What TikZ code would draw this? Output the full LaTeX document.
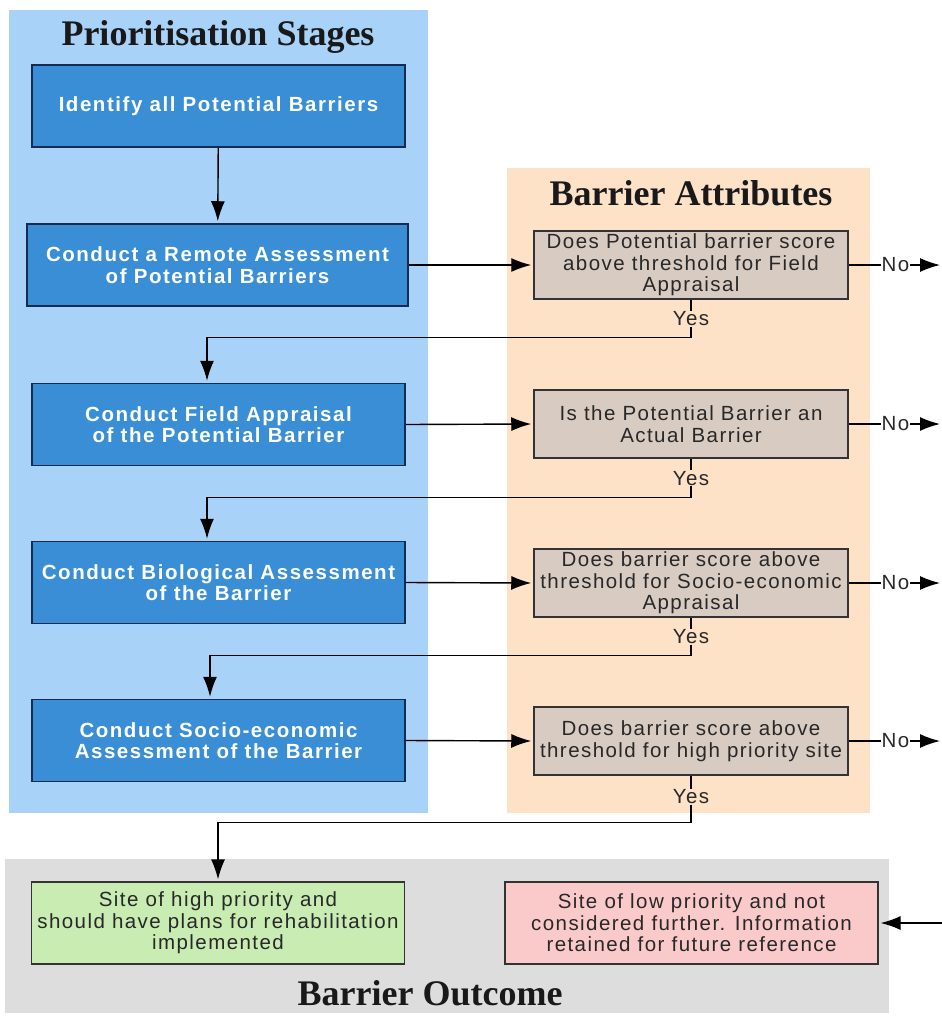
\documentclass[tikz,border=0pt]{standalone}
\usepackage{fontspec}
\setmainfont{Liberation Serif}
\setsansfont{Liberation Sans}
\newfontfamily\spacedsans[LetterSpace=7, BoldFeatures={LetterSpace=7.5}]{Liberation Sans}
\usetikzlibrary{arrows.meta}

\definecolor{stagepanel}{RGB}{168,210,248}
\definecolor{stagebox}{RGB}{57,142,214}
\definecolor{stageedge}{RGB}{22,42,82}
\definecolor{attrpanel}{RGB}{253,226,200}
\definecolor{attrbox}{RGB}{216,203,194}
\definecolor{outpanel}{RGB}{221,221,221}
\definecolor{highbox}{RGB}{200,236,178}
\definecolor{lowbox}{RGB}{250,202,202}
\definecolor{inktext}{RGB}{40,40,40}

\newcommand\stagefont{\spacedsans\bfseries\fontsize{20.5}{21.5}\selectfont}
\newcommand\testfont{\spacedsans\fontsize{20.5}{21.5}\selectfont}

\tikzset{
  panel title/.style={font=\fontsize{36}{40}\selectfont\bfseries, text=black!90},
  stage/.style={draw=stageedge, fill=stagebox, line width=1.5pt, minimum width=373pt,
    minimum height=82pt, align=center, text=white, font=\stagefont},
  test/.style={draw=black!80, fill=attrbox, line width=1.5pt, minimum width=314pt,
    minimum height=68pt, inner sep=2pt, align=center, text=inktext, font=\testfont},
  outcome/.style={draw=black!80, line width=1.2pt, minimum width=373pt,
    minimum height=82pt, align=center, text=inktext, font=\testfont},
  link/.style={line width=1.4pt, shorten >=2pt, -{Latex[length=20pt,width=14pt]}},
  yes/.style={fill=attrpanel, inner sep=1pt, text=inktext, font=\testfont},
  no/.style={fill=white, inner sep=1pt, text=inktext, font=\testfont},
}

\begin{document}
\begin{tikzpicture}[x=1pt, y=-1pt]
  \useasboundingbox (0,0) rectangle (942,1017);

  % panels
  \fill[stagepanel] (9,10) rectangle (428,813);
  \fill[attrpanel] (507,168) rectangle (870,813);
  \fill[outpanel] (5,859) rectangle (889,1013);

  \node[panel title] (T1) at (218,37) {Prioritisation Stages};
  \node[panel title] (T2) at (691,193) {Barrier Attributes};
  \node[panel title] (T3) at (430,993) {Barrier Outcome};

  % prioritisation stages
  \node[stage] (B1) at (218.5,106) {Identify all Potential Barriers};
  \node[stage, minimum width=381pt] (B2) at (217.5,265) {Conduct a Remote Assessment\\of Potential Barriers};
  \node[stage] (B3) at (218.5,424.5) {Conduct Field Appraisal\\of the Potential Barrier};
  \node[stage] (B4) at (218.5,582.5) {Conduct Biological Assessment\\of the Barrier};
  \node[stage] (B5) at (218.5,740.5) {Conduct Socio-economic\\Assessment of the Barrier};

  % barrier attributes
  \node[test] (D1) at (691,265) {Does Potential barrier score\\above threshold for Field\\Appraisal};
  \node[test] (D2) at (691,424) {Is the Potential Barrier an\\Actual Barrier};
  \node[test] (D3) at (691,583) {Does barrier score above\\threshold for Socio-economic\\Appraisal};
  \node[test] (D4) at (691,741) {Does barrier score above\\threshold for high priority site};

  % barrier outcome
  \node[outcome, fill=highbox] (G) at (218,923) {Site of high priority and\\should have plans for rehabilitation\\implemented};
  \node[outcome, fill=lowbox] (R) at (691.5,923) {Site of low priority and not\\considered further. Information\\retained for future reference};

  \coordinate (E1) at (942,265);
  \coordinate (E2) at (942,424);
  \coordinate (E3) at (942,583);
  \coordinate (E4) at (942,741);
  \coordinate (E5) at (942,923);

  \draw[link] (B1) -- (B2);
  \draw[link] (B2.east) -- (D1.west);
  \draw[link] (B3.east) -- (D2.west);
  \draw[link] (B4.east) -- (D3.west);
  \draw[link] (B5.east) -- (D4.west);

  \draw[link] (D1.south) -- node[yes] {Yes} ++(0,38) -| ([xshift=-11.5pt]B3.north);
  \draw[link] (D2.south) -- node[yes] {Yes} ++(0,39) -| ([xshift=-11.5pt]B4.north);
  \draw[link] (D3.south) -- node[yes] {Yes} ++(0,38) -| ([xshift=-8.5pt]B5.north);
  \draw[link] (D4.south) -- node[yes, pos=0.45] {Yes} ++(0,47) -| (G.north);

  \draw[link] (D1.east) -- node[no] {No} (E1);
  \draw[link] (D2.east) -- node[no] {No} (E2);
  \draw[link] (D3.east) -- node[no] {No} (E3);
  \draw[link] (D4.east) -- node[no] {No} (E4);
  \draw[link] (E5) -- (R.east);
\end{tikzpicture}
\end{document}
